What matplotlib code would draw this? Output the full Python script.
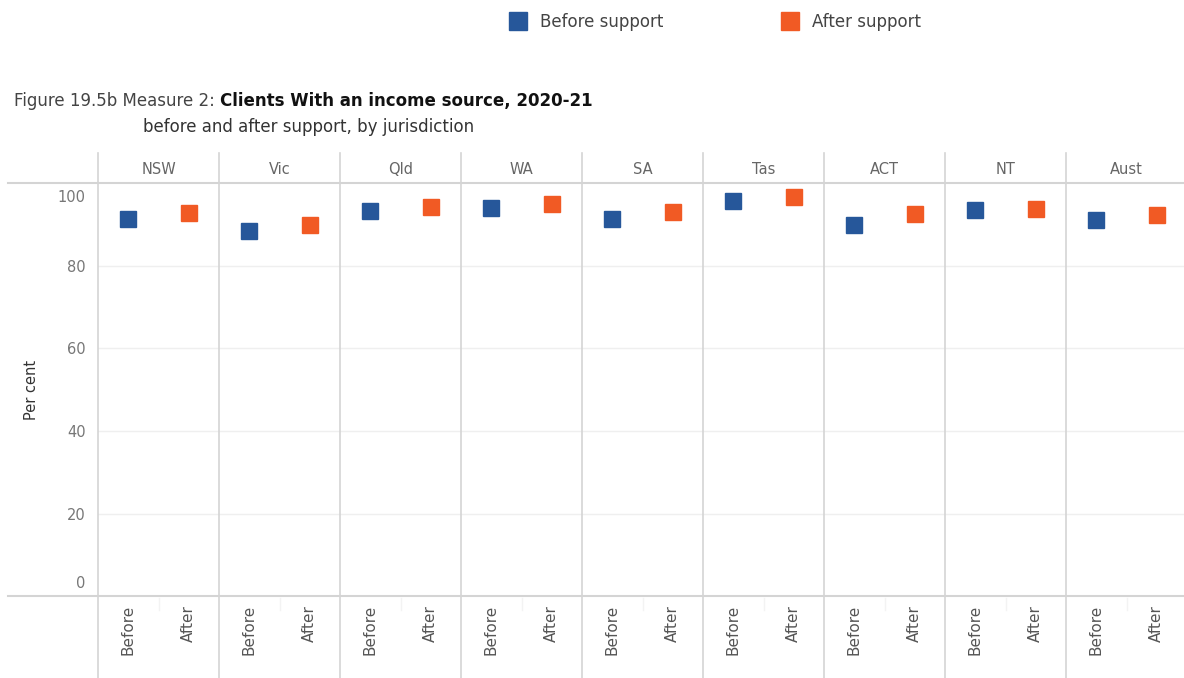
import numpy as np
import matplotlib.pyplot as plt
import matplotlib.transforms as mtransforms
from matplotlib.lines import Line2D

# data ---------------------------------------------------------------
regions = ["NSW", "Vic", "Qld", "WA", "SA", "Tas", "ACT", "NT", "Aust"]
before = [91.3, 88.4, 93.3, 93.9, 91.3, 95.6, 89.8, 93.4, 91.0]
after = [92.8, 89.9, 94.2, 94.9, 92.9, 96.7, 92.4, 93.7, 92.3]
sub_labels = ["Before", "After"]
yticks = [0, 20, 40, 60, 80, 100]

blue = "#26579a"
orange = "#f15a24"
line_col = "#d4d4d4"

W, H = 1184, 678
fig = plt.figure(figsize=(W / 100, H / 100), dpi=100)

# plot area in pixels ------------------------------------------------
left, right, top, bottom = 98, 1184, 183, 596.4
ax = fig.add_axes([left / W, 1 - bottom / H, (right - left) / W, (bottom - top) / H])

n = len(regions)
xb = np.arange(n) * 2
xa = xb + 1
ax.plot(xb, before, ls="", marker="s", ms=11.5, color=blue, mec=blue, zorder=3)
ax.plot(xa, after, ls="", marker="s", ms=11.5, color=orange, mec=orange, zorder=3)

ax.set_xlim(-0.5, 2 * n - 0.5 - 0.05)
ax.set_ylim(0, 100)
for s in ax.spines.values():
    s.set_visible(False)

# gridlines
for v in yticks[1:-1]:
    ax.axhline(v, color="#efefef", lw=1, zorder=0)

# y ticks
ax.set_yticks(yticks)
ax.set_yticklabels([str(v) for v in yticks])
ax.tick_params(axis="y", length=0, pad=9, labelsize=10.5, labelcolor="#777777")
ylabs = ax.get_yticklabels()
ylabs[0].set_transform(ylabs[0].get_transform() + mtransforms.ScaledTranslation(0, 14 / 100, fig.dpi_scale_trans))
ylabs[-1].set_transform(ylabs[-1].get_transform() + mtransforms.ScaledTranslation(0, -13 / 100, fig.dpi_scale_trans))

# x ticks: Before / After
ax.set_xticks(np.concatenate([xb, xa]))
ax.set_xticklabels(sub_labels[:1] * n + sub_labels[1:] * n, rotation=90, va="top")
ax.tick_params(axis="x", length=0, pad=6, labelsize=11, labelcolor="#555555")

# panel separators, extending into header and bottom label rows
y_top = (bottom - 153) / (bottom - top)
y_bot = (bottom - H) / (bottom - top)
for i in range(n):
    ax.axvline(2 * i - 0.5, ymin=y_bot, ymax=y_top, color=line_col, lw=1.2, clip_on=False)
    ax.text(2 * i + 0.5, (bottom - 169) / (bottom - top), regions[i], transform=ax.get_xaxis_transform(),
            ha="center", va="center", fontsize=10.5, color="#666666")
    # faint divider between Before and After labels
    ax.axvline(2 * i + 0.5, ymin=(bottom - 610) / (bottom - top), ymax=(bottom - 598) / (bottom - top),
               color="#f3f3f3", lw=1, clip_on=False)

# header and axis border lines
for yy in [top, bottom]:
    fig.add_artist(Line2D([8 / W, 1], [1 - yy / H, 1 - yy / H], color=line_col, lw=1.5))

# y axis title
fig.text(32 / W, 1 - 390 / H, "Per cent", rotation=90, ha="center", va="center", fontsize=10.5, color="#333333")

# title
t1 = fig.text(14 / W, 1 - 101 / H, "Figure 19.5b Measure 2: ", ha="left", va="center", fontsize=12, color="#444444")
ax.annotate("Clients With an income source, 2020-21", xy=(1, 0), xycoords=t1, ha="left", va="bottom",
            fontsize=12, color="#111111", fontweight="semibold", annotation_clip=False)
fig.text(143 / W, 1 - 127 / H, "before and after support, by jurisdiction", ha="left", va="center",
         fontsize=12, color="#333333")

# legend
handles = [Line2D([], [], ls="", marker="s", ms=13, color=blue),
           Line2D([], [], ls="", marker="s", ms=13, color=orange)]
fig.legend(handles, ["Before support", "After support"], ncol=2, frameon=False, loc="center",
           bbox_to_anchor=(711 / W, 1 - 22 / H), columnspacing=6.6, handletextpad=0.3, fontsize=12,
           labelcolor="#444444")

plt.savefig("out.png", dpi=100)
